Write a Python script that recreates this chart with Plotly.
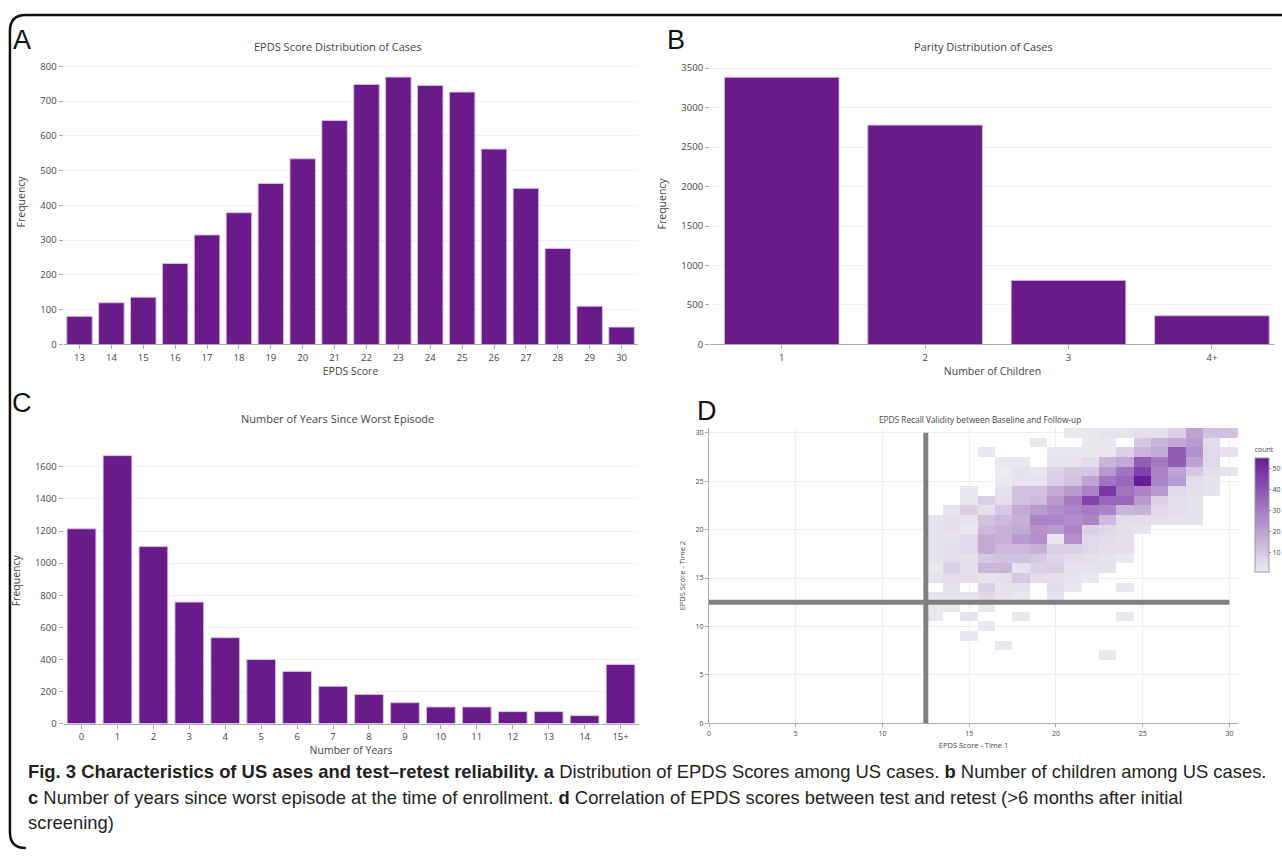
import plotly.graph_objects as go

W, H = 1282, 858

# ---------------- data ----------------
epds_scores = [str(s) for s in range(13, 31)]
epds_freq = [81, 120, 136, 233, 315, 379, 463, 534, 644, 748, 769, 745, 726, 562, 449, 276, 110, 50]

parity_cats = ["1", "2", "3", "4+"]
parity_freq = [3384, 2778, 812, 364]

years_cats = [str(i) for i in range(15)] + ["15+"]
years_freq = [1214, 1670, 1103, 757, 535, 399, 325, 232, 181, 130, 103, 103, 74, 74, 49, 368]

heat_x = list(range(13, 31))
heat_y = list(range(7, 31))
N = None
r7 = [N, N, N, N, N, N, N, N, N, N, 2, N, N, N, N, N, N, N]
r8 = [N, N, N, N, 2, N, N, N, N, N, N, N, N, N, N, N, N, N]
r9 = [N, N, 2, N, N, N, N, N, N, N, N, N, N, N, N, N, N, N]
r10 = [N, N, N, 2, N, N, N, N, N, N, N, N, N, N, N, N, N, N]
r11 = [2, N, 3, N, N, 2, N, N, N, N, N, 2, N, N, N, N, N, N]
r12 = [2, 2, N, 2, N, N, N, N, N, N, N, N, N, N, N, N, N, N]
r13 = [3, 3, 3, 6, 3, 2, N, 3, N, N, N, N, N, N, N, N, N, N]
r14 = [N, 3, N, 8, 3, 3, N, 5, 2, N, N, 2, N, N, N, N, N, N]
r15 = [3, 5, 5, 3, 4, 10, 5, 4, 3, 2, N, N, N, N, N, N, N, N]
r16 = [2, 8, 4, 15, 15, 3, 8, 8, 3, 3, 3, N, N, N, N, N, N, N]
r17 = [3, 5, 4, 10, 12, 12, 10, 6, 5, 4, 3, 2, N, N, N, N, N, N]
r18 = [3, 4, 6, 18, 14, 14, 16, 8, 8, 6, 4, 4, N, N, N, N, N, N]
r19 = [3, 3, 6, 18, 16, 22, 25, 2, 25, 6, 5, 4, N, N, N, N, N, N]
r20 = [3, 4, 2, 14, 16, 18, 24, 22, 28, 8, 6, 4, 3, N, N, N, N, N]
r21 = [3, 4, 3, 12, 14, 16, 28, 28, 25, 28, 14, 5, 5, 4, 3, 3, N, N]
r22 = [N, 3, 8, 4, 10, 18, 22, 25, 28, 30, 28, 15, 16, 6, 4, 3, N, N]
r23 = [N, N, 2, 8, 4, 12, 14, 22, 30, 45, 35, 35, 22, 8, 4, 3, N, N]
r24 = [N, N, 2, N, 3, 12, 12, 18, 22, 28, 48, 32, 28, 22, 6, 4, 3, N]
r25 = [N, N, N, N, 2, 3, 3, 8, 12, 20, 32, 35, 55, 28, 22, 5, 3, N]
r26 = [N, N, N, N, 1, 3, 2, 8, 10, 10, 22, 32, 45, 28, 20, 10, 4, 3]
r27 = [N, N, N, N, 2, 2, N, 3, 3, 5, 15, 18, 38, 30, 38, 20, 6, N]
r28 = [N, N, N, 2, N, N, N, 2, 2, 2, 2, 8, 15, 18, 38, 25, 6, 3]
r29 = [N, N, N, N, N, N, 2, N, N, 2, 2, N, 10, 15, 18, 22, 5, N]
r30 = [N, N, N, N, N, N, N, N, 2, 2, 3, 3, 4, 4, 8, 20, 12, 12]
heat_z = [r7, r8, r9, r10, r11, r12, r13, r14, r15, r16, r17, r18, r19, r20,
          r21, r22, r23, r24, r25, r26, r27, r28, r29, r30]
cutoff = 12.5

# ---------------- helpers ----------------
def px(x):
    return x / W

def py(y):
    return 1 - y / H

BAR = "#6a1b8a"
TXT = "#444444"
FONT = "Open Sans, DejaVu Sans, sans-serif"

fig = go.Figure()

bar_line = dict(color="rgba(215,195,235,0.9)", width=1)
fig.add_trace(go.Bar(x=epds_scores, y=epds_freq, marker=dict(color=BAR, line=bar_line),
                     xaxis="x", yaxis="y", showlegend=False))
fig.add_trace(go.Bar(x=parity_cats, y=parity_freq, marker=dict(color=BAR, line=bar_line),
                     xaxis="x2", yaxis="y2", showlegend=False))
fig.add_trace(go.Bar(x=years_cats, y=years_freq, marker=dict(color=BAR, line=bar_line),
                     xaxis="x3", yaxis="y3", showlegend=False))

fig.add_trace(go.Heatmap(
    x=heat_x, y=heat_y, z=heat_z, zmin=1, zmax=55,
    colorscale=[[0, "rgb(236,235,241)"], [1, "rgb(106,27,154)"]],
    xaxis="x4", yaxis="y4", hoverongaps=False,
    colorbar=dict(
        title=dict(text="count", side="top", font=dict(size=7, color=TXT, family=FONT)),
        x=px(1262), xanchor="left", y=py(446), yanchor="top",
        lenmode="pixels", len=128, thickness=14, thicknessmode="pixels",
        outlinecolor="#999999", outlinewidth=1,
        tickvals=[10, 20, 30, 40, 50], ticks="outside", ticklen=2, tickcolor="#999",
        tickfont=dict(size=7, color=TXT, family=FONT), xpad=0, ypad=0,
    ),
))
fig.add_trace(go.Scatter(x=[cutoff, cutoff], y=[0, 30], mode="lines",
                         line=dict(color="#808080", width=5), xaxis="x4", yaxis="y4",
                         showlegend=False, hoverinfo="skip"))
fig.add_trace(go.Scatter(x=[0, 30], y=[cutoff, cutoff], mode="lines",
                         line=dict(color="#808080", width=5), xaxis="x4", yaxis="y4",
                         showlegend=False, hoverinfo="skip"))

def bar_xaxis(dom, rng, title, **kw):
    return dict(domain=dom, range=rng, showgrid=False, showline=True, linecolor="#aaaaaa",
                linewidth=1, ticks="outside", ticklen=4, tickcolor="#aaaaaa",
                tickfont=dict(size=9.5, color=TXT, family=FONT),
                title=dict(text=title, font=dict(size=10.5, color=TXT, family=FONT), standoff=4),
                fixedrange=True, **kw)

def bar_yaxis(dom, rng, anchor, dtick):
    return dict(domain=dom, range=rng, anchor=anchor, showgrid=True, gridcolor="#f2f2f2",
                showline=False, zeroline=False, ticks="outside", ticklen=4, tickcolor="#aaaaaa",
                dtick=dtick, tickfont=dict(size=9.5, color=TXT, family=FONT),
                title=dict(text="Frequency", font=dict(size=10.5, color=TXT, family=FONT), standoff=12),
                fixedrange=True)

fig.update_layout(
    width=W, height=H, margin=dict(l=0, r=0, t=0, b=0),
    paper_bgcolor="white", plot_bgcolor="white", bargap=0.2, showlegend=False,
    xaxis=bar_xaxis([px(62), px(640)], [-0.5, 17.5], "EPDS Score", anchor="y"),
    yaxis=bar_yaxis([py(345.7), py(57.9)], [0, 820], "x", 100),
    xaxis2=bar_xaxis([px(713), 1.0], [-0.5, 3.44], "Number of Children", anchor="y2"),
    yaxis2=bar_yaxis([py(345.7), py(61.9)], [0, 3560], "x2", 500),
    xaxis3=bar_xaxis([px(62), px(641)], [-0.5, 15.5], "Number of Years", anchor="y3"),
    yaxis3=bar_yaxis([py(728.3), py(440.1)], [0, 1780], "x3", 200),
    xaxis4=dict(domain=[px(712), px(1244.8)], range=[0, 30.5], anchor="y4",
                showgrid=True, gridcolor="#eeeeee", zeroline=False, showline=True,
                linecolor="#aaaaaa", ticks="outside", ticklen=3, tickcolor="#aaaaaa",
                dtick=5, tickfont=dict(size=7, color=TXT, family=FONT),
                title=dict(text="EPDS Score - Time 1", font=dict(size=7.5, color=TXT, family=FONT), standoff=6),
                fixedrange=True),
    yaxis4=dict(domain=[py(728), py(430)], range=[0, 30.5], anchor="x4",
                showgrid=True, gridcolor="#eeeeee", zeroline=False, showline=True,
                linecolor="#aaaaaa", ticks="outside", ticklen=3, tickcolor="#aaaaaa",
                dtick=5, tickfont=dict(size=7, color=TXT, family=FONT),
                title=dict(text="EPDS Score - Time 2", font=dict(size=7.5, color=TXT, family=FONT), standoff=8),
                fixedrange=True),
)

ann = []
def text(x, y, s, size, color=TXT, family=FONT, xanchor="center", yanchor="middle"):
    ann.append(dict(x=px(x), y=py(y), xref="paper", yref="paper", text=s, showarrow=False,
                    xanchor=xanchor, yanchor=yanchor,
                    font=dict(size=size, color=color, family=family)))

text(338, 45, "EPDS Score Distribution of Cases", 11)
text(988, 45, "Parity Distribution of Cases", 11)
text(338, 420, "Number of Years Since Worst Episode", 11)
text(985, 421, "EPDS Recall Validity between Baseline and Follow-up", 8.3)

LET = "Liberation Sans, Arial, sans-serif"
text(9, 38, "A", 27, color="#111", family=LET, xanchor="left")
text(668, 38, "B", 27, color="#111", family=LET, xanchor="left")
text(8, 405, "C", 27, color="#111", family=LET, xanchor="left")
text(698, 413, "D", 27, color="#111", family=LET, xanchor="left")

CAP = "Liberation Sans, Arial, sans-serif"
text(24, 777, "<b>Fig. 3 Characteristics of US ases and test–retest reliability. a</b> Distribution of EPDS Scores among US cases. "
     "<b>b</b> Number of children among US cases.", 18.4, color="#231f20", family=CAP, xanchor="left")
text(24, 803, "<b>c</b> Number of years since worst episode at the time of enrollment. <b>d</b> Correlation of EPDS scores "
     "between test and retest (>6 months after initial", 18.4, color="#231f20", family=CAP, xanchor="left")
text(24, 828, "screening)", 18.4, color="#231f20", family=CAP, xanchor="left")

fig.update_layout(annotations=ann)

# rounded frame (left/top/bottom visible)
path = (f"M 1.01,{py(13)} L {px(24)},{py(13)} Q {px(8)},{py(13)} {px(8)},{py(29)} "
        f"L {px(8)},{py(838)} Q {px(8)},{py(854)} {px(24)},{py(854)}")
fig.add_shape(type="path", path=path, xref="paper", yref="paper",
              line=dict(color="#111111", width=2.5))

fig.write_html("out.html", config={"displayModeBar": False},
               post_script="document.body.style.margin='0';document.body.style.overflow='hidden';")
